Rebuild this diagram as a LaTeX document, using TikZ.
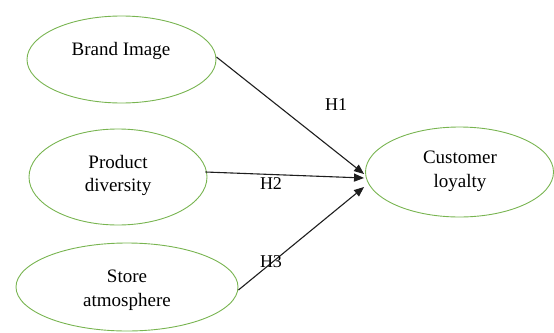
\documentclass[tikz,border=0pt]{standalone}
\usepackage{fontspec}
\setmainfont{Liberation Serif}
\usetikzlibrary{shapes.geometric,arrows.meta}
\definecolor{ovalgreen}{RGB}{120,180,80}
\definecolor{linegray}{RGB}{30,30,30}
\tikzset{
  oval/.style={ellipse, draw=ovalgreen, line width=0.9pt, inner sep=0pt},
  txt/.style={font=\fontsize{19}{23.5}\selectfont, align=center, inner sep=0pt},
  hyp/.style={font=\fontsize{18}{21}\selectfont, inner sep=0pt},
  conn/.style={draw=linegray, line width=1.1pt, -{Triangle[length=10pt,width=8pt]}}
}
\begin{document}
\begin{tikzpicture}[x=1pt,y=-1pt]
\useasboundingbox (0,0) rectangle (554,332);
% ellipses
\node[oval, minimum width=189pt, minimum height=87pt] (bi) at (121.5,59.5) {};
\node[oval, minimum width=178pt, minimum height=96pt] (pd) at (118,177) {};
\node[oval, minimum width=222pt, minimum height=88pt] (sa) at (127,287) {};
\node[oval, minimum width=188pt, minimum height=90pt] (cl) at (459.5,172) {};
% texts
\node[txt] (bit) at (121,51) {Brand Image};
\node[txt] (pdt) at (118,175.5) {Product\\diversity};
\node[txt] (sat) at (127,290) {Store\\atmosphere};
\node[txt] (clt) at (460,171.5) {Customer\\loyalty};
% connectors
\draw[conn] ([yshift=2.5pt]bi.east) -- ([xshift=-1pt,yshift=-2pt]cl.west);
\draw[conn] ([xshift=-2pt,yshift=5pt]pd.east) -- ([xshift=-1pt,yshift=-6pt]cl.west);
\draw[conn] ([yshift=-3pt]sa.east) -- ([xshift=-1pt,yshift=-15pt]cl.west);
% hypothesis labels
\node[hyp] (h1) at (336,105) {H1};
\node[hyp] (h2) at (271,183.5) {H2};
\node[hyp] (h3) at (271,262) {H3};
\end{tikzpicture}
\end{document}
